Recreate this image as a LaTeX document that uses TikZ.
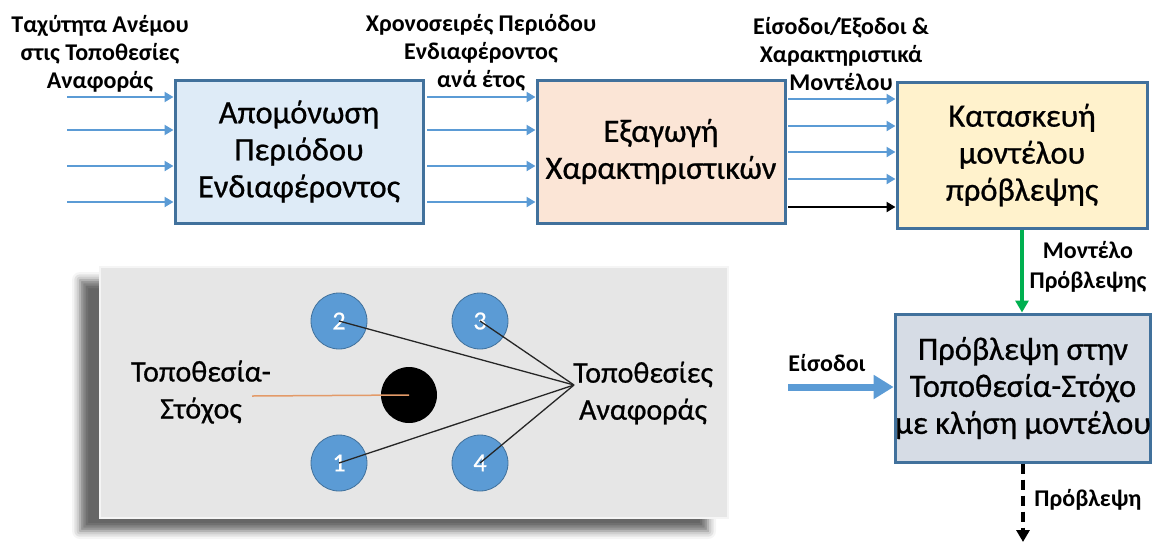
\documentclass[tikz,border=0pt]{standalone}
\usepackage{fontspec}
\setmainfont{Carlito}
\newfontfamily\boxface{Carlito}[FakeBold=0.7]
\usetikzlibrary{arrows.meta,shadows.blur}

\definecolor{boxline}{HTML}{41719C}
\definecolor{flowblue}{HTML}{5B9BD5}
\definecolor{fillA}{HTML}{DEEBF7}
\definecolor{fillB}{HTML}{FBE5D6}
\definecolor{fillC}{HTML}{FFF2CC}
\definecolor{fillD}{HTML}{D6DCE5}
\definecolor{panelgray}{HTML}{E6E6E6}
\definecolor{modelgreen}{HTML}{00B050}
\definecolor{targetline}{HTML}{E39A68}

\tikzset{
  procbox/.style={draw=boxline, line width=3pt, align=center, inner sep=0pt,
    font=\boxface\fontsize{32.5}{37}\selectfont},
  flowlabel/.style={align=center, inner sep=0pt,
    font=\bfseries\fontsize{24}{28}\selectfont},
  smalllabel/.style={align=center, inner sep=0pt,
    font=\bfseries\fontsize{24}{30}\selectfont},
  thinflow/.style={draw=flowblue, line width=2.8pt,
    -{Triangle[length=9pt,width=10pt]}},
  blackflow/.style={draw=black, line width=2.8pt,
    -{Triangle[length=9pt,width=10pt]}},
  modelflow/.style={draw=modelgreen, line width=3.2pt,
    -{Triangle[length=12pt,width=13pt]}},
  outflow/.style={draw=black, line width=3.2pt, dash pattern=on 10pt off 6pt,
    -{Triangle[length=12pt,width=13pt]}},
  bigflow/.style={draw=flowblue, line width=7pt,
    -{Triangle[length=20pt,width=23pt]}},
  panel/.style={fill=panelgray, draw=white!92!gray, line width=1.5pt,
    minimum width=628pt, minimum height=251pt, inner sep=0pt,
    blur shadow={shadow xshift=-20pt, shadow yshift=-13pt,
      shadow blur radius=8pt, shadow opacity=60}},
  refsite/.style={circle, fill=flowblue, draw=boxline, line width=0.8pt,
    minimum size=56pt, inner sep=0pt, text=white,
    font=\boxface\fontsize{26}{30}\selectfont},
  targetsite/.style={circle, fill=black, minimum size=56pt, inner sep=0pt},
  sitetext/.style={align=center, inner sep=0pt,
    font=\boxface\fontsize{30}{37}\selectfont},
  link/.style={draw=black!85, line width=1.3pt},
}

\begin{document}
\begin{tikzpicture}[x=1pt, y=-1pt]
  \useasboundingbox (0,0) rectangle (1153,542);

  % processing chain
  \node[procbox, fill=fillA, minimum width=248pt, minimum height=143pt]
    (isolate) at (299,151.5) {Απομόνωση\\Περιόδου\\Ενδιαφέροντος};
  \node[procbox, fill=fillB, minimum width=248pt, minimum height=143pt]
    (extract) at (661,151.5) {Εξαγωγή\\Χαρακτηριστικών};
  \node[procbox, fill=fillC, minimum width=250pt, minimum height=146pt]
    (build) at (1022,155) {Κατασκευή\\μοντέλου\\πρόβλεψης};
  \node[procbox, fill=fillD, minimum width=250pt, minimum height=148pt]
    (predict) at (1023,388) {Πρόβλεψη στην\\Τοποθεσία-Στόχο\\με κλήση μοντέλου};

  % flow labels
  \node[flowlabel] (windlbl) at (100,54)
    {Ταχύτητα Ανέμου\\στις Τοποθεσίες\\Αναφοράς};
  \node[flowlabel] (serieslbl) at (481,53)
    {Χρονοσειρές Περιόδου\\Ενδιαφέροντος\\ανά έτος};
  \node[flowlabel] (featlbl) at (841,54)
    {Είσοδοι/Έξοδοι \&\\Χαρακτηριστικά\\Μοντέλου};
  \node[smalllabel] (modellbl) at (1088,267) {Μοντέλο\\Πρόβλεψης};
  \node[smalllabel] (inputlbl) at (827,363) {Είσοδοι};
  \node[smalllabel] (outlbl) at (1088,500) {Πρόβλεψη};

  % wind speed series into the first stage
  \foreach \y [count=\i] in {97,130,166,202} {
    \coordinate (wind\i) at (67,\y);
    \draw[thinflow] (wind\i) -- (wind\i -| isolate.west);
  }
  % yearly series into feature extraction
  \foreach \y [count=\i] in {97,130,166,202} {
    \coordinate (series\i) at (427,\y);
    \draw[thinflow] (series\i) -- (series\i -| extract.west);
  }
  % features into model building
  \foreach \y [count=\i] in {99,126,152,179} {
    \coordinate (feat\i) at (788,\y);
    \draw[thinflow] (feat\i) -- (feat\i -| build.west);
  }
  \coordinate (feat5) at (788,207);
  \draw[blackflow] (feat5) -- (feat5 -| build.west);

  % trained model to prediction
  \draw[modelflow] (build.south) -- (build.south |- predict.north);

  % new inputs
  \coordinate (newin) at (788,387);
  \draw[bigflow] (newin) -- (newin -| predict.west);

  % output
  \coordinate (result) at (1023,542);
  \draw[outflow] (predict.south) -- (result);

  % site layout panel
  \node[panel] (sites) at (414,392.5) {};
  \node[targetsite] (target) at (409,395) {};
  \node[refsite] (s2) at (339,321) {2};
  \node[refsite] (s3) at (480,321) {3};
  \node[refsite] (s1) at (339,463) {1};
  \node[refsite] (s4) at (480,463) {4};

  \node[sitetext] (targetlbl) at (201,392) {Τοποθεσία-\\Στόχος};
  \node[sitetext] (reflbl) at (643,393) {Τοποθεσίες\\Αναφοράς};

  \coordinate (hub) at (574,385);
  \foreach \s in {s1,s2,s3,s4}
    \draw[link] (\s.center) -- (hub);
  \coordinate (pointer) at (252,396);
  \draw[draw=targetline, line width=1.5pt] (pointer) -- (target.center);
\end{tikzpicture}
\end{document}
